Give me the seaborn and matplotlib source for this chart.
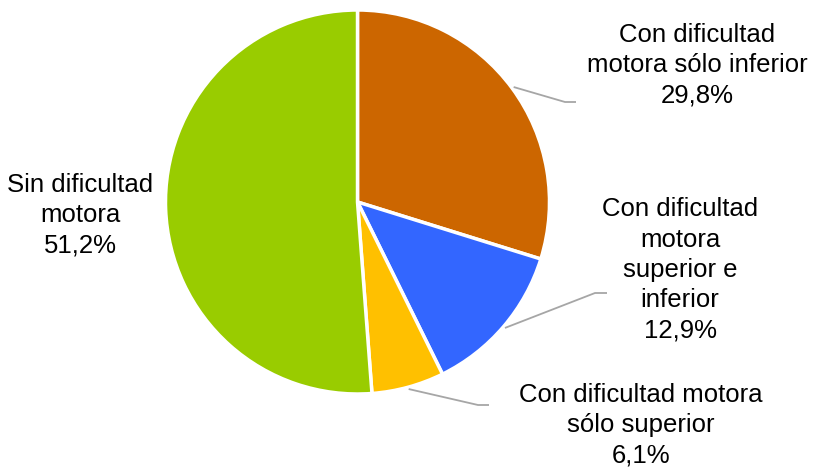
import matplotlib
matplotlib.use("Agg")
import matplotlib.pyplot as plt
import numpy as np
import seaborn as sns

labels = ["Con dificultad\nmotora sólo inferior",
          "Con dificultad\nmotora\nsuperior e\ninferior",
          "Con dificultad motora\nsólo superior",
          "Sin dificultad\nmotora"]
values = [29.8, 12.9, 6.1, 51.2]
colors = ["#CC6600", "#3366FF", "#FFC000", "#99CC00"]

sns.set_theme(style="white")
plt.rcParams["font.family"] = ["Liberation Sans", "DejaVu Sans"]

W, H = 814, 469
fig = plt.figure(figsize=(W / 100, H / 100), dpi=100)
ax = fig.add_axes([0, 0, 1, 1])

cx, cy, r = 357.5, H - 202, 192
wedges, _ = ax.pie(values, colors=colors, startangle=90, counterclock=False,
                   center=(cx, cy), radius=r,
                   wedgeprops=dict(edgecolor="white", linewidth=2.5))
ax.set_xlim(0, W)
ax.set_ylim(0, H)
ax.set_aspect("equal")
ax.axis("off")

# label positions (pixels from top-left) and leader elbows
text_pos = [(697, 65), (680, 270), (641, 425), (80, 215)]
elbows = [((565, 102), (576, 102)), ((595, 293), (607, 293)), ((478, 405), (489, 405)), None]

for w, lab, v, (tx, ty), elb in zip(wedges, labels, values, text_pos, elbows):
    ang = np.deg2rad((w.theta1 + w.theta2) / 2)
    if elb is not None:
        sx = cx + r * 1.01 * np.cos(ang)
        sy = cy + r * 1.01 * np.sin(ang)
        xs = [sx, elb[0][0], elb[1][0]]
        ys = [sy, H - elb[0][1], H - elb[1][1]]
        ax.plot(xs, ys, color="#A6A6A6", lw=1.3, solid_capstyle="butt")
    txt = f"{lab}\n{v:.1f}%".replace(".", ",")
    ax.text(tx, H - ty, txt, ha="center", va="center", fontsize=18.5,
            color="black", linespacing=1.33)

fig.savefig("out.png", dpi=100, facecolor="white")
